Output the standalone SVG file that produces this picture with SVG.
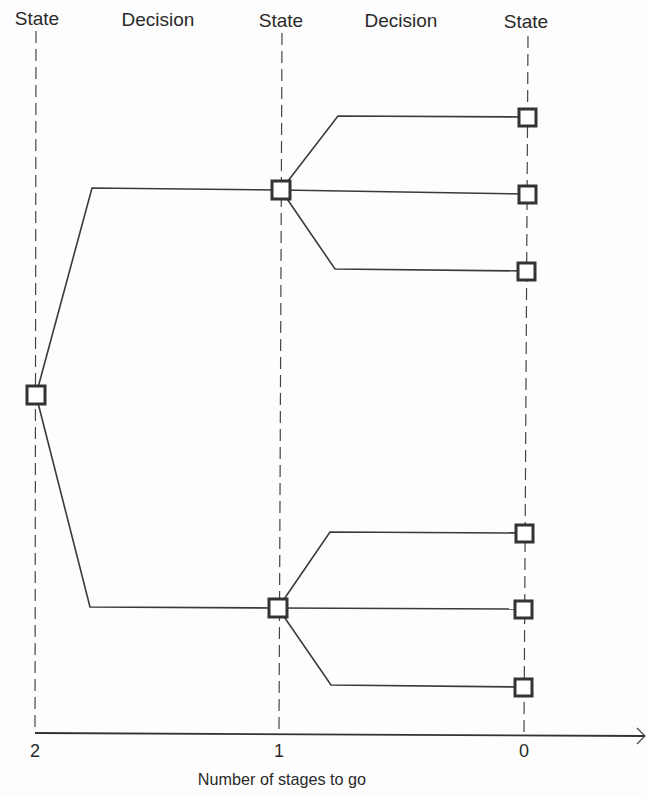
<svg xmlns="http://www.w3.org/2000/svg" width="646" height="796" viewBox="0 0 646 796">
<style>
text{font-family:"Liberation Sans",Arial,sans-serif;font-size:19px;fill:#2a2a2a;text-anchor:middle}
text.num{font-size:18px}
text.title{font-size:16.2px}
.dash{stroke:#444;stroke-width:1.2;stroke-dasharray:12 6;fill:none}
.edge{stroke:#3a3a3a;stroke-width:1.6;fill:none}
.node{fill:#fff;stroke:#333;stroke-width:3}
</style>
<rect width="646" height="796" fill="#fdfdfd"/>
<g id="labels">
<text x="37" y="25">State</text>
<text x="158" y="26">Decision</text>
<text x="281" y="27">State</text>
<text x="401" y="27">Decision</text>
<text x="526" y="28">State</text>
<text class="num" x="35" y="757">2</text>
<text class="num" x="279" y="757">1</text>
<text class="num" x="524" y="757">0</text>
<text class="title" x="282" y="785">Number of stages to go</text>
</g>
<g id="axes">
<line class="dash" x1="36" y1="31" x2="35" y2="733"/>
<line class="dash" x1="282" y1="33" x2="279" y2="733"/>
<line class="dash" x1="528" y1="36" x2="524" y2="733"/>
<line x1="35" y1="733" x2="644" y2="736" stroke="#333" stroke-width="1.8"/>
<path d="M637,728 L645,736 L637,744" fill="none" stroke="#444" stroke-width="1.2"/>
</g>
<g id="connectors">
<polyline class="edge" points="36,395 92,188 281,190"/>
<polyline class="edge" points="36,395 90,607 278,608"/>
<polyline class="edge" points="281,190 338,116 527,117"/>
<polyline class="edge" points="281,190 527,194"/>
<polyline class="edge" points="281,190 335,269 526,271"/>
<polyline class="edge" points="278,608 330,532 524,533"/>
<polyline class="edge" points="278,608 523,609"/>
<polyline class="edge" points="278,608 331,685 523,687"/>
</g>
<g id="n2"><rect class="node" x="27" y="386" width="18" height="18"/></g>
<g id="n1a"><rect class="node" x="272" y="181" width="18" height="18"/></g>
<g id="n1b"><rect class="node" x="269" y="599" width="18" height="18"/></g>
<g id="n0a"><rect class="node" x="519" y="109" width="17" height="17"/></g>
<g id="n0b"><rect class="node" x="519" y="186" width="17" height="17"/></g>
<g id="n0c"><rect class="node" x="518" y="263" width="17" height="17"/></g>
<g id="n0d"><rect class="node" x="516" y="525" width="17" height="17"/></g>
<g id="n0e"><rect class="node" x="515" y="601" width="17" height="17"/></g>
<g id="n0f"><rect class="node" x="515" y="679" width="17" height="17"/></g>
</svg>
